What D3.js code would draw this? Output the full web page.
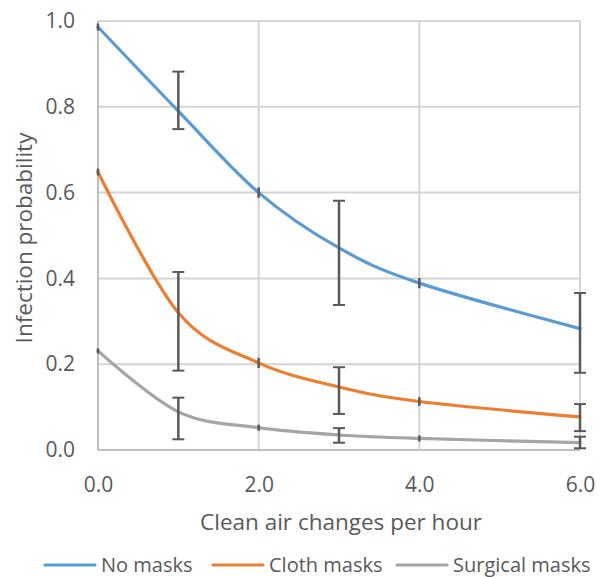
<!DOCTYPE html>
<html><head><meta charset="utf-8">
<script src="https://cdn.jsdelivr.net/npm/d3@7"></script>
<style>body{margin:0;background:#fff}svg{display:block}text{font-family:"Open Sans","Noto Sans",sans-serif;fill:#595959}</style>
</head><body>
<svg id="c" width="600" height="577"></svg>
<script>
const xValues = [0, 1, 2, 3, 4, 6];
const seriesNames = ["No masks", "Cloth masks", "Surgical masks"];
const seriesColors = ["#5B9BD5", "#ED7D31", "#A5A5A5"];
const noMasks = [0.986, 0.79, 0.60, 0.471, 0.389, 0.283];
const clothMasks = [0.648, 0.32, 0.203, 0.147, 0.113, 0.077];
const surgicalMasks = [0.231, 0.089, 0.052, 0.035, 0.027, 0.017];
const noMasksErr = [[0.978, 0.994], [0.748, 0.882], [0.588, 0.612], [0.338, 0.581], [0.377, 0.401], [0.18, 0.366]];
const clothErr = [[0.64, 0.656], [0.185, 0.415], [0.191, 0.215], [0.084, 0.193], [0.103, 0.123], [0.044, 0.107]];
const surgicalErr = [[0.225, 0.237], [0.025, 0.122], [0.045, 0.059], [0.017, 0.051], [0.02, 0.034], [0.004, 0.031]];
const xTicks = [0, 2, 4, 6];
const yTicks = [0, 0.2, 0.4, 0.6, 0.8, 1.0];

const svg = d3.select("#c");
const x = d3.scaleLinear().domain([0, 6]).range([98, 580]);
const y = d3.scaleLinear().domain([0, 1]).range([450, 21]);

// grid
svg.append("g").selectAll("line").data(yTicks).join("line")
  .attr("x1", x(0)).attr("x2", x(6)).attr("y1", d => y(d)).attr("y2", d => y(d))
  .attr("stroke", "#D4D4D4").attr("stroke-width", 2);
svg.append("g").selectAll("line").data(xTicks).join("line")
  .attr("x1", d => x(d)).attr("x2", d => x(d)).attr("y1", y(0)).attr("y2", y(1))
  .attr("stroke", "#D4D4D4").attr("stroke-width", 2);
// axes lines
svg.append("line").attr("x1", x(0)).attr("x2", x(0)).attr("y1", y(0)).attr("y2", y(1)).attr("stroke", "#BFBFBF").attr("stroke-width", 2);
svg.append("line").attr("x1", x(0)).attr("x2", x(6)).attr("y1", y(0)).attr("y2", y(0)).attr("stroke", "#BFBFBF").attr("stroke-width", 2);

// tick labels
const yAxis = d3.axisLeft(y).tickValues(yTicks).tickFormat(d3.format(".1f")).tickSize(0).tickPadding(23);
const ga = svg.append("g").attr("transform", `translate(${x(0)},0)`).call(yAxis);
ga.select(".domain").remove();
ga.selectAll("text").style("font-size", "21px").attr("fill", "#595959");
const xAxis = d3.axisBottom(x).tickValues(xTicks).tickFormat(d3.format(".1f")).tickSize(0).tickPadding(27);
const gb = svg.append("g").attr("transform", `translate(0,${y(0)})`).call(xAxis);
gb.select(".domain").remove();
gb.selectAll("text").style("font-size", "21px").attr("fill", "#595959");

// axis titles
svg.append("text").attr("x", 341).attr("y", 530).attr("text-anchor", "middle").style("font-size", "22.5px").text("Clean air changes per hour");
svg.append("text").attr("transform", "translate(32,238) rotate(-90)").attr("text-anchor", "middle").style("font-size", "22.5px").text("Infection probability");

// lines
const allSeries = [noMasks, clothMasks, surgicalMasks];
const allErr = [noMasksErr, clothErr, surgicalErr];
const line = d3.line().x((d, i) => x(xValues[i])).y(d => y(d)).curve(d3.curveCatmullRom.alpha(0));
allSeries.forEach((s, k) => {
  svg.append("path").datum(s).attr("d", line).attr("fill", "none")
    .attr("stroke", seriesColors[k]).attr("stroke-width", 3.2).attr("stroke-linecap", "round");
});
// error bars
allErr.forEach(errs => {
  const g = svg.append("g").attr("stroke", "#595959").attr("stroke-width", 2.5);
  errs.forEach((e, i) => {
    const cx = x(xValues[i]);
    g.append("line").attr("x1", cx).attr("x2", cx).attr("y1", y(e[0])).attr("y2", y(e[1]));
    if (e[1] - e[0] > 0.026) {
      [e[0], e[1]].forEach(v => g.append("line").attr("x1", cx - 6).attr("x2", cx + 6).attr("y1", y(v)).attr("y2", y(v)).attr("stroke-width", 2));
    }
  });
});

// legend
const legendX = [45, 213, 397];
seriesNames.forEach((n, k) => {
  svg.append("line").attr("x1", legendX[k]).attr("x2", legendX[k] + 50).attr("y1", 565).attr("y2", 565)
    .attr("stroke", seriesColors[k]).attr("stroke-width", 3.2).attr("stroke-linecap", "round");
  svg.append("text").attr("x", legendX[k] + 56).attr("y", 572).style("font-size", "20px").text(n);
});
</script>
</body></html>
